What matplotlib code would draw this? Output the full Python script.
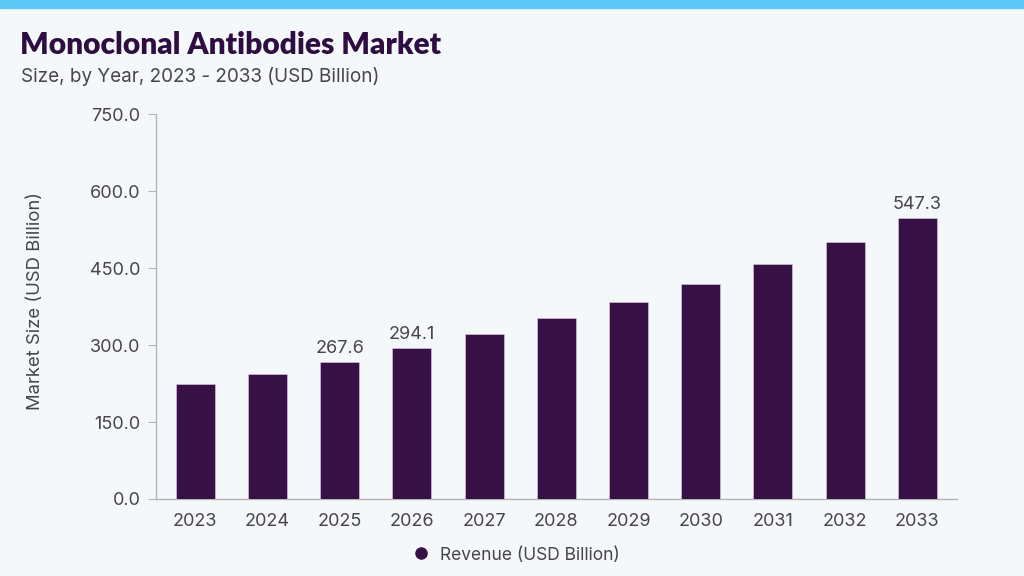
import matplotlib
matplotlib.use("Agg")
import matplotlib.pyplot as plt
from matplotlib.lines import Line2D
from matplotlib.patches import Rectangle

years = ["2023", "2024", "2025", "2026", "2027", "2028", "2029", "2030", "2031", "2032", "2033"]
revenue = [223.4, 244.1, 267.6, 294.1, 321.4, 351.8, 383.7, 419.3, 458.3, 501.1, 547.3]
labeled_years = ["2025", "2026", "2033"]
yticks = [0, 150, 300, 450, 600, 750]

BAR = "#371046"
BG = "#F4F8FB"
TXT = "#4A4448"
plt.rcParams['font.family'] = ['Inter', 'DejaVu Sans']

fig = plt.figure(figsize=(10.24, 5.76), dpi=100, facecolor=BG)
fig.patches.append(Rectangle((0, 1 - 8/576), 1, 8/576, transform=fig.transFigure,
                             color="#5BC8F5", zorder=0))

ax = fig.add_axes([0.152, 0.1337, 0.9346 - 0.152, 0.802 - 0.1337])
ax.set_facecolor(BG)
x = list(range(len(years)))
ax.bar(x, revenue, width=0.54, color=BAR, edgecolor="#d8d0e0", linewidth=0.4, zorder=3)
for i, (yr, v) in enumerate(zip(years, revenue)):
    if yr in labeled_years:
        ax.text(i, v + 10, f"{v:.1f}", ha="center", va="bottom", fontsize=13, color=TXT)

ax.set_xlim(-0.55, 10.55)
ax.set_ylim(0, 750)
ax.set_yticks(yticks)
ax.set_yticklabels([f"{t:.1f}" for t in yticks])
ax.set_xticks(x)
ax.set_xticklabels(years)
for s in ["top", "right"]:
    ax.spines[s].set_visible(False)
for s in ["left", "bottom"]:
    ax.spines[s].set_color("#b5b5b5")
    ax.spines[s].set_linewidth(1.0)
ax.tick_params(axis="y", length=6, color="#b5b5b5", labelsize=13, labelcolor=TXT, pad=5)
ax.tick_params(axis="x", length=0, labelsize=13, labelcolor=TXT, pad=10)
ax.set_ylabel("Market Size (USD Billion)", fontsize=13.3, color=TXT)
ax.yaxis.set_label_coords((44 - 155.7) / (957 - 155.7), 0.515)

fig.text(20/1024, 1 - 45/576, "Monoclonal Antibodies Market", fontsize=21.5, fontweight="heavy",
         color="#2E0D40", va="center", ha="left", family=["Lato", "DejaVu Sans"])
fig.text(21/1024, 1 - 76/576, "Size, by Year, 2023 - 2033 (USD Billion)", fontsize=13.6,
         color=TXT, va="center", ha="left")

handle = Line2D([], [], marker="o", linestyle="none", markersize=8, color=BAR)
fig.legend([handle], ["Revenue (USD Billion)"], loc="center", bbox_to_anchor=(512/1024, 1 - 555/576),
           frameon=False, fontsize=12.5, labelcolor=TXT, handletextpad=0.1)

fig.savefig("out.png", dpi=100, facecolor=BG)
